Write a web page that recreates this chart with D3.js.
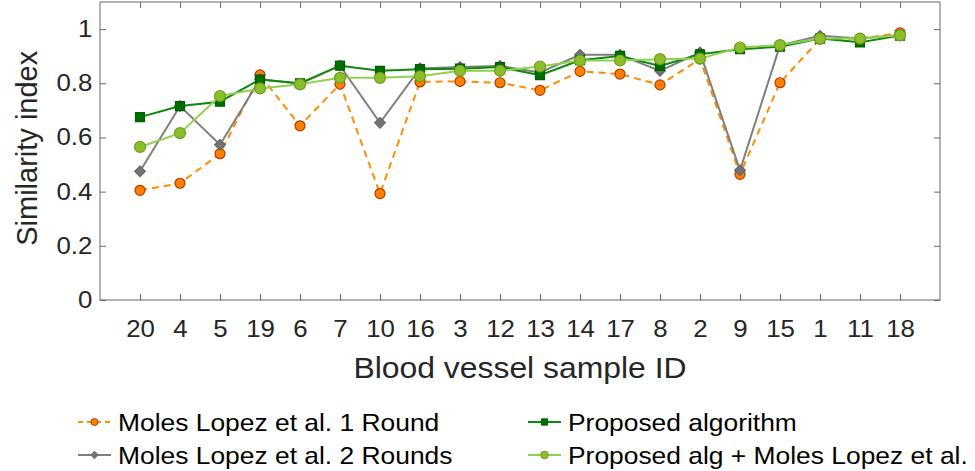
<!DOCTYPE html>
<html>
<head>
<meta charset="utf-8">
<script src="https://cdn.jsdelivr.net/npm/d3@7"></script>
<style>
  body { margin: 0; background: #fff; }
  svg { display: block; font-family: "Liberation Sans", Arial, sans-serif; }
</style>
</head>
<body>
<div id="chart"></div>
<script>
// sample IDs in plotted order
const sampleIds = ["20", "4", "5", "19", "6", "7", "10", "16", "3", "12", "13", "14", "17", "8", "2", "9", "15", "1", "11", "18"];

// similarity index per method
const molesLopez1 = [0.405, 0.431, 0.540, 0.831, 0.643, 0.797, 0.393, 0.805, 0.807, 0.802, 0.774, 0.844, 0.834, 0.794, 0.890, 0.464, 0.802, 0.963, 0.965, 0.986];
const molesLopez2 = [0.475, 0.716, 0.573, 0.815, 0.798, 0.865, 0.654, 0.855, 0.860, 0.864, 0.840, 0.905, 0.905, 0.846, 0.914, 0.479, 0.940, 0.975, 0.965, 0.978];
const proposed    = [0.675, 0.716, 0.732, 0.814, 0.800, 0.865, 0.846, 0.852, 0.854, 0.860, 0.830, 0.885, 0.901, 0.864, 0.907, 0.926, 0.935, 0.965, 0.951, 0.976];
const proposedPlus = [0.565, 0.616, 0.753, 0.781, 0.796, 0.820, 0.820, 0.826, 0.846, 0.846, 0.862, 0.884, 0.884, 0.889, 0.891, 0.932, 0.941, 0.965, 0.965, 0.977];

const yTicks = [0, 0.2, 0.4, 0.6, 0.8, 1];

const width = 975;
const height = 471;
const margin = { top: 2, right: 35, bottom: 171, left: 100 };
const stretch = "scale(1.1,1)"; // reference text is a little wide

const svg = d3.select("#chart").append("svg")
  .attr("width", width)
  .attr("height", height);

// x: one slot per sample, half-slot padding at each end
const x = d3.scaleLinear()
  .domain([-1, sampleIds.length])
  .range([margin.left, width - margin.right]);

const y = d3.scaleLinear()
  .domain([0, 1.1])
  .range([height - margin.bottom, margin.top]);

const axisColor = "#262626";

// frame
svg.append("rect")
  .attr("x", margin.left)
  .attr("y", margin.top)
  .attr("width", width - margin.right - margin.left)
  .attr("height", height - margin.bottom - margin.top)
  .attr("fill", "none")
  .attr("stroke", "#666")
  .attr("stroke-width", 1);

// bottom axis
const xAxis = svg.append("g")
  .attr("transform", `translate(0,${height - margin.bottom})`)
  .call(d3.axisBottom(x)
    .tickValues(d3.range(sampleIds.length))
    .tickFormat(i => sampleIds[i])
    .tickSize(-6)
    .tickPadding(20));
xAxis.select(".domain").remove();

// top ticks
const xTop = svg.append("g")
  .attr("transform", `translate(0,${margin.top})`)
  .call(d3.axisTop(x)
    .tickValues(d3.range(sampleIds.length))
    .tickFormat("")
    .tickSize(-6));
xTop.select(".domain").remove();

// left axis
const yAxis = svg.append("g")
  .attr("transform", `translate(${margin.left},0)`)
  .call(d3.axisLeft(y)
    .tickValues(yTicks)
    .tickFormat(d => d)
    .tickSize(-6)
    .tickPadding(7));
yAxis.select(".domain").remove();

// right ticks
const yRight = svg.append("g")
  .attr("transform", `translate(${width - margin.right},0)`)
  .call(d3.axisRight(y)
    .tickValues(yTicks)
    .tickFormat("")
    .tickSize(-6));
yRight.select(".domain").remove();

svg.selectAll(".tick line").attr("stroke", "#666");
svg.selectAll(".tick text")
  .attr("fill", axisColor)
  .attr("font-size", "23.5px")
  .attr("font-family", "Liberation Sans, Arial, sans-serif")
  .attr("transform", stretch);

// axis titles
svg.append("text")
  .attr("transform", `translate(${x(9.5)},378) ${stretch}`)
  .attr("text-anchor", "middle")
  .attr("font-size", "29px")
  .attr("fill", axisColor)
  .text("Blood vessel sample ID");

svg.append("text")
  .attr("transform", `translate(37,${y(0.56)}) rotate(-90)`)
  .attr("text-anchor", "middle")
  .attr("font-size", "29px")
  .attr("fill", axisColor)
  .text("Similarity index");

// series styling
const series = [
  { name: "Moles Lopez et al. 1 Round", values: molesLopez1, line: "#ff8c00", dash: "7,5", marker: "circle", fill: "#ff7f00", stroke: "#b03a00", size: 5 },
  { name: "Moles Lopez et al. 2 Rounds", values: molesLopez2, line: "#7f7f7f", dash: null, marker: "diamond", fill: "#737373", stroke: "#666", size: 5.5 },
  { name: "Proposed algorithm", values: proposed, line: "#0b8a0b", dash: null, marker: "square", fill: "#006d00", stroke: "#006000", size: 4.5 },
  { name: "Proposed alg + Moles Lopez et al.", values: proposedPlus, line: "#8fd14f", dash: null, marker: "circle", fill: "#8cbd2a", stroke: "#6f9e1c", size: 5.5 }
];

const symbolOf = {
  circle: d3.symbolCircle,
  diamond: d3.symbolDiamond2,
  square: d3.symbolSquare
};

function markerPath(s, scale) {
  const r = s.size * (scale || 1);
  let area;
  if (s.marker === "circle") area = Math.PI * r * r;
  else if (s.marker === "square") area = (2 * r) * (2 * r);
  else area = 2 * r * r * 1.2;
  return d3.symbol().type(symbolOf[s.marker]).size(area)();
}

const line = d3.line()
  .x((d, i) => x(i))
  .y(d => y(d));

series.forEach(s => {
  const g = svg.append("g");
  g.append("path")
    .datum(s.values)
    .attr("d", line)
    .attr("fill", "none")
    .attr("stroke", s.line)
    .attr("stroke-width", 2)
    .attr("stroke-dasharray", s.dash);
  g.selectAll("path.mk")
    .data(s.values)
    .join("path")
      .attr("class", "mk")
      .attr("d", markerPath(s))
      .attr("transform", (d, i) => `translate(${x(i)},${y(d)})`)
      .attr("fill", s.fill)
      .attr("stroke", s.stroke)
      .attr("stroke-width", 1.2);
});

// legend, two columns
const legendPos = [
  { lx: 78, ly: 422 },
  { lx: 78, ly: 455 },
  { lx: 528, ly: 422 },
  { lx: 528, ly: 455 }
];

series.forEach((s, i) => {
  const p = legendPos[i];
  const g = svg.append("g").attr("transform", `translate(${p.lx},${p.ly})`);
  g.append("line")
    .attr("x1", 0).attr("x2", 33)
    .attr("stroke", s.line)
    .attr("stroke-width", 2)
    .attr("stroke-dasharray", s.dash ? "5,4" : null);
  g.append("path")
    .attr("d", markerPath(s, 0.7))
    .attr("transform", "translate(16.5,0)")
    .attr("fill", s.fill)
    .attr("stroke", s.stroke)
    .attr("stroke-width", 1);
  g.append("text")
    .attr("transform", `translate(40,9) ${stretch}`)
    .attr("font-size", "24px")
    .attr("fill", "#000")
    .text(s.name);
});
</script>
</body>
</html>
